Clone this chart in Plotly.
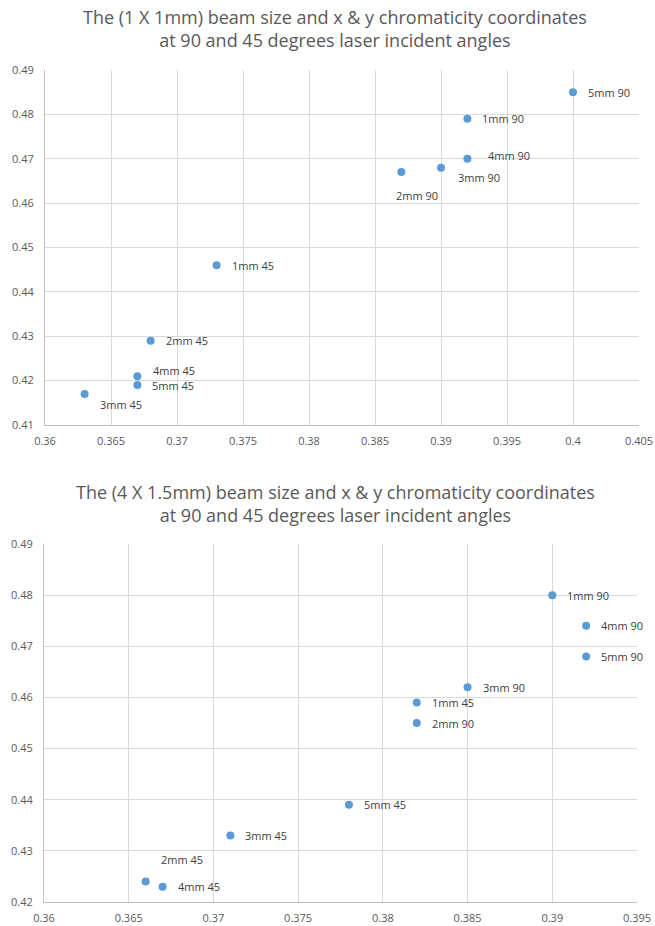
import plotly.graph_objects as go

# ---------------- data ----------------
top_title = "The (1 X 1mm) beam size and x & y chromaticity coordinates<br>at 90 and 45 degrees laser incident angles"
top_labels = ["1mm 90", "2mm 90", "3mm 90", "4mm 90", "5mm 90",
              "1mm 45", "2mm 45", "3mm 45", "4mm 45", "5mm 45"]
top_x = [0.392, 0.387, 0.390, 0.392, 0.400, 0.373, 0.368, 0.363, 0.367, 0.367]
top_y = [0.479, 0.467, 0.468, 0.470, 0.485, 0.446, 0.429, 0.417, 0.421, 0.419]
top_xticks = [0.36, 0.365, 0.37, 0.375, 0.38, 0.385, 0.39, 0.395, 0.4, 0.405]
top_xtext = ["0.36", "0.365", "0.37", "0.375", "0.38", "0.385", "0.39", "0.395", "0.4", "0.405"]
top_yticks = [0.41, 0.42, 0.43, 0.44, 0.45, 0.46, 0.47, 0.48, 0.49]
top_ytext = ["0.41", "0.42", "0.43", "0.44", "0.45", "0.46", "0.47", "0.48", "0.49"]

bot_title = "The (4 X 1.5mm) beam size and x & y chromaticity coordinates<br>at 90 and 45 degrees laser incident angles"
bot_labels = ["1mm 90", "4mm 90", "5mm 90", "3mm 90", "1mm 45",
              "2mm 90", "5mm 45", "3mm 45", "2mm 45", "4mm 45"]
bot_x = [0.390, 0.392, 0.392, 0.385, 0.382, 0.382, 0.378, 0.371, 0.366, 0.367]
bot_y = [0.480, 0.474, 0.468, 0.462, 0.459, 0.455, 0.439, 0.433, 0.424, 0.423]
bot_xticks = [0.36, 0.365, 0.37, 0.375, 0.38, 0.385, 0.39, 0.395]
bot_xtext = ["0.36", "0.365", "0.37", "0.375", "0.38", "0.385", "0.39", "0.395"]
bot_yticks = [0.42, 0.43, 0.44, 0.45, 0.46, 0.47, 0.48, 0.49]
bot_ytext = ["0.42", "0.43", "0.44", "0.45", "0.46", "0.47", "0.48", "0.49"]

# ---------------- label placement (pixel offsets: xshift, yshift) ----------------
top_offsets = {"2mm 90": (-7, -23), "3mm 90": (15, -10), "4mm 90": (19, 3),
               "4mm 45": (14, 6), "3mm 45": (13, -11)}
bot_offsets = {"2mm 45": (13, 22)}

W, H = 655, 926
ML, MR, MT, MB = 44, 16, 70, 24
PW, PH = W - ML - MR, H - MT - MB
FONT = "Open Sans"
MARKER = "#5B9BD5"
GRID = "#D9D9D9"
AXIS = "#BFBFBF"
TICK = "#595959"
LABEL = "#404040"

def fx(px):  # page pixel -> paper fraction
    return (px - ML) / PW

def fy(py):
    return (H - MB - py) / PH

fig = go.Figure()
fig.add_trace(go.Scatter(x=top_x, y=top_y, mode="markers", xaxis="x", yaxis="y",
                         marker=dict(color=MARKER, size=8), hoverinfo="x+y", showlegend=False))
fig.add_trace(go.Scatter(x=bot_x, y=bot_y, mode="markers", xaxis="x2", yaxis="y2",
                         marker=dict(color=MARKER, size=8), hoverinfo="x+y", showlegend=False))

annotations = []
for labels, xs, ys, offs, xr, yr in [(top_labels, top_x, top_y, top_offsets, "x", "y"),
                                     (bot_labels, bot_x, bot_y, bot_offsets, "x2", "y2")]:
    for lab, xv, yv in zip(labels, xs, ys):
        dx, dy = offs.get(lab, (13, 0))
        annotations.append(dict(x=xv, y=yv, xref=xr, yref=yr, text=lab, showarrow=False,
                                xanchor="left", yanchor="middle", xshift=dx, yshift=dy,
                                font=dict(family=FONT, size=11, color=LABEL)))

annotations.append(dict(x=fx(335), y=fy(29), xref="paper", yref="paper", text=top_title,
                        showarrow=False, xanchor="center", yanchor="middle",
                        font=dict(family=FONT, size=18, color=TICK)))
annotations.append(dict(x=fx(335), y=fy(503), xref="paper", yref="paper", text=bot_title,
                        showarrow=False, xanchor="center", yanchor="middle",
                        font=dict(family=FONT, size=18, color=TICK)))

def xaxis(rng, tv, tt, dom, anchor):
    return dict(range=rng, tickvals=tv, ticktext=tt, domain=dom, anchor=anchor, automargin=False,
                showgrid=True, gridcolor=GRID, gridwidth=1, showline=True, linecolor=AXIS,
                linewidth=1, zeroline=False, ticks="outside", ticklen=6, tickcolor="rgba(0,0,0,0)",
                tickfont=dict(family=FONT, size=11, color=TICK), fixedrange=True)

def yaxis(rng, tv, tt, dom, anchor):
    return dict(range=rng, tickvals=tv, ticktext=tt, domain=dom, anchor=anchor, automargin=False,
                showgrid=True, gridcolor=GRID, gridwidth=1, showline=True, linecolor=AXIS,
                linewidth=1, zeroline=False, ticks="outside", ticklen=8, tickcolor="rgba(0,0,0,0)",
                tickfont=dict(family=FONT, size=11, color=TICK), fixedrange=True)

fig.update_layout(
    width=W, height=H, margin=dict(l=ML, r=MR, t=MT, b=MB, pad=0), autosize=False,
    paper_bgcolor="white", plot_bgcolor="white",
    xaxis=xaxis([0.36, 0.405], top_xticks, top_xtext, [fx(45), fx(639)], "y"),
    yaxis=yaxis([0.41, 0.49], top_yticks, top_ytext, [fy(425), fy(70)], "x"),
    xaxis2=xaxis([0.36, 0.395], bot_xticks, bot_xtext, [fx(44), fx(637)], "y2"),
    yaxis2=yaxis([0.42, 0.49], bot_yticks, bot_ytext, [fy(902), fy(544)], "x2"),
    annotations=annotations,
    showlegend=False,
)

fig.write_html(
    "out.html",
    config={"displayModeBar": False},
    post_script="document.documentElement.style.margin='0';document.body.style.margin='0';"
                "document.body.style.overflow='hidden';",
)
